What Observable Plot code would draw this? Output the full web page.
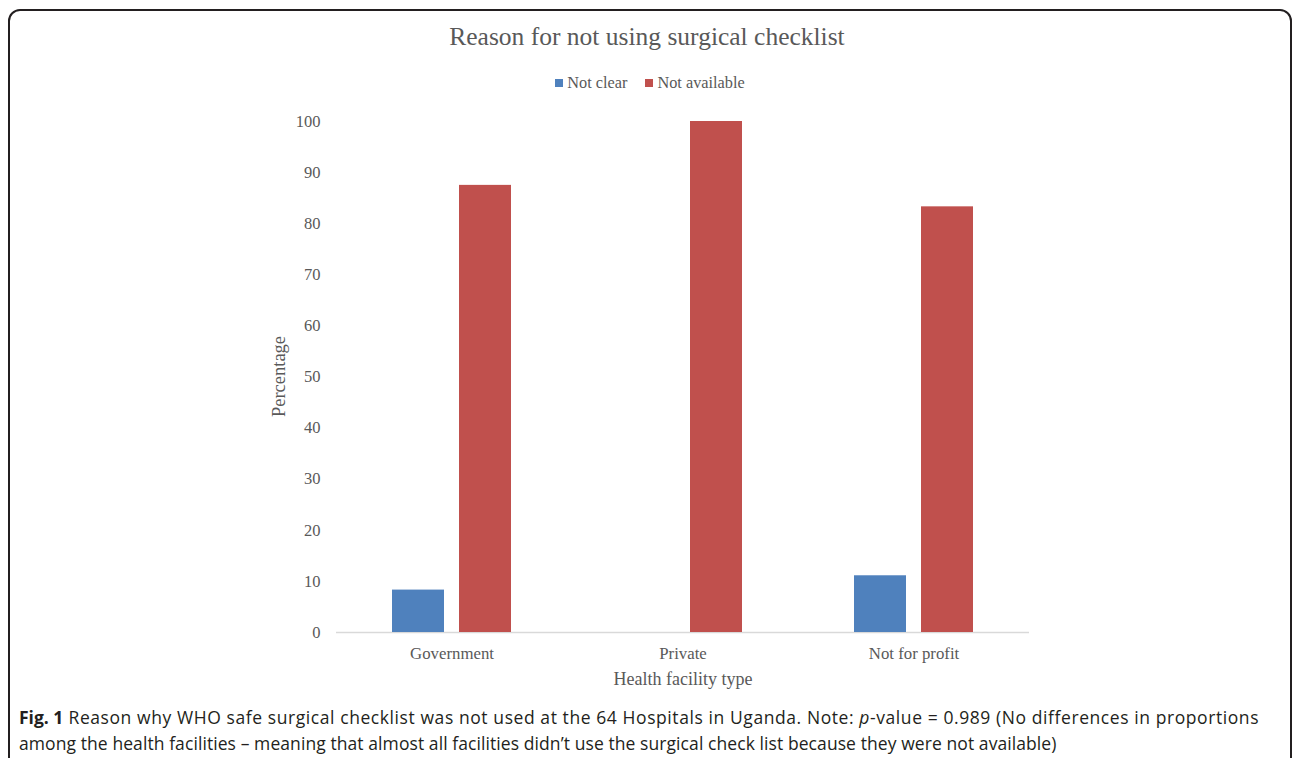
<!DOCTYPE html>
<html>
<head>
<meta charset="utf-8">
<script src="https://cdn.jsdelivr.net/npm/d3@7"></script>
<script src="https://cdn.jsdelivr.net/npm/@observablehq/plot@0.6"></script>
<style>
  html, body { margin: 0; padding: 0; background: #fff; overflow: hidden; }
  body { width: 1292px; height: 758px; position: relative; }
  #frame { position: absolute; left: 8px; top: 9px; width: 1284px; height: 820px; border: 2px solid #231f20; border-radius: 12px; box-sizing: border-box; }
  #title { position: absolute; top: 22px; left: 0; width: 1294px; text-align: center; font-family: "Liberation Serif", serif; font-size: 25.5px; color: #595959; }
  #legend { position: absolute; top: 73px; left: 0; width: 1300px; text-align: center; font-family: "Liberation Serif", serif; font-size: 16.3px; color: #595959; }
  #legend span.sw { display: inline-block; width: 8px; height: 8px; margin-right: 4px; vertical-align: 1px; }
  #legend span.item { margin: 0 9px; }
  #chart { position: absolute; left: 0; top: 100px; }
  #caption { position: absolute; left: 19px; top: 704px; font-family: "Open Sans", sans-serif; font-size: 17.5px; line-height: 26px; color: #231f20; white-space: nowrap; }
  #caption .l1 { letter-spacing: 0.58px; }
  #caption .l2 { letter-spacing: 0.08px; }
  #caption b { letter-spacing: 0; }
</style>
</head>
<body>
<div id="frame"></div>
<div id="title">Reason for not using surgical checklist</div>
<div id="legend"></div>
<div id="chart"></div>
<div id="caption"><span class="l1"><b>Fig. 1</b> Reason why WHO safe surgical checklist was not used at the 64 Hospitals in Uganda. Note: <i>p</i>-value = 0.989 (No differences in proportions</span><br><span class="l2">among the health facilities – meaning that almost all facilities didn’t use the surgical check list because they were not available)</span></div>
<script>
const facilities = ["Government", "Private", "Not for profit"];
const seriesNames = ["Not clear", "Not available"];
const notClear = [8.3, 0, 11.1];
const notAvailable = [87.5, 100, 83.3];
const colors = ["#4F81BD", "#C0504D"];
const yTicks = [0, 10, 20, 30, 40, 50, 60, 70, 80, 90, 100];
const xTitle = "Health facility type";
const yTitle = "Percentage";

const data = [];
facilities.forEach((f, i) => {
  data.push({facility: f, series: seriesNames[0], value: notClear[i]});
  data.push({facility: f, series: seriesNames[1], value: notAvailable[i]});
});

const legend = document.getElementById("legend");
seriesNames.forEach((s, i) => {
  const it = document.createElement("span");
  it.className = "item";
  it.innerHTML = `<span class="sw" style="background:${colors[i]}"></span>${s}`;
  legend.appendChild(it);
});

const chart = Plot.plot({
  width: 1292,
  height: 600,
  marginLeft: 336,
  marginRight: 263,
  marginTop: 21,
  marginBottom: 68,
  style: {fontFamily: "Liberation Serif, serif", fontSize: "16.5px", color: "#595959", background: "transparent"},
  fx: {domain: facilities, padding: 0, label: null},
  x: {domain: seriesNames, paddingInner: 0.22, paddingOuter: 0.82, axis: null},
  y: {domain: [0, 100], label: null},
  color: {domain: seriesNames, range: colors},
  marks: [
    Plot.axisY({ticks: yTicks, tickSize: 0, tickPadding: 16, label: null, fontSize: 16.5}),
    Plot.axisFx({anchor: "bottom", tickSize: 0, tickPadding: 15, label: null, fontSize: 16.8}),
    Plot.ruleY([0], {stroke: "#d9d9d9", strokeWidth: 1.5}),
    Plot.barY(data, {fx: "facility", x: "series", y: "value", fill: "series"}),
    Plot.text([{fx: facilities[1], t: xTitle}], {fx: "fx", text: "t", frameAnchor: "bottom", dy: 52, fontSize: 18, fill: "#595959"}),
  ]
});
document.getElementById("chart").appendChild(chart);

const svg = d3.select(chart);
svg.append("text")
  .attr("transform", `translate(281, ${21 + (532 - 21) / 2}) rotate(-90)`)
  .attr("text-anchor", "middle")
  .attr("dominant-baseline", "middle")
  .attr("fill", "#595959")
  .attr("font-size", 18.5)
  .text(yTitle);
</script>
</body>
</html>
